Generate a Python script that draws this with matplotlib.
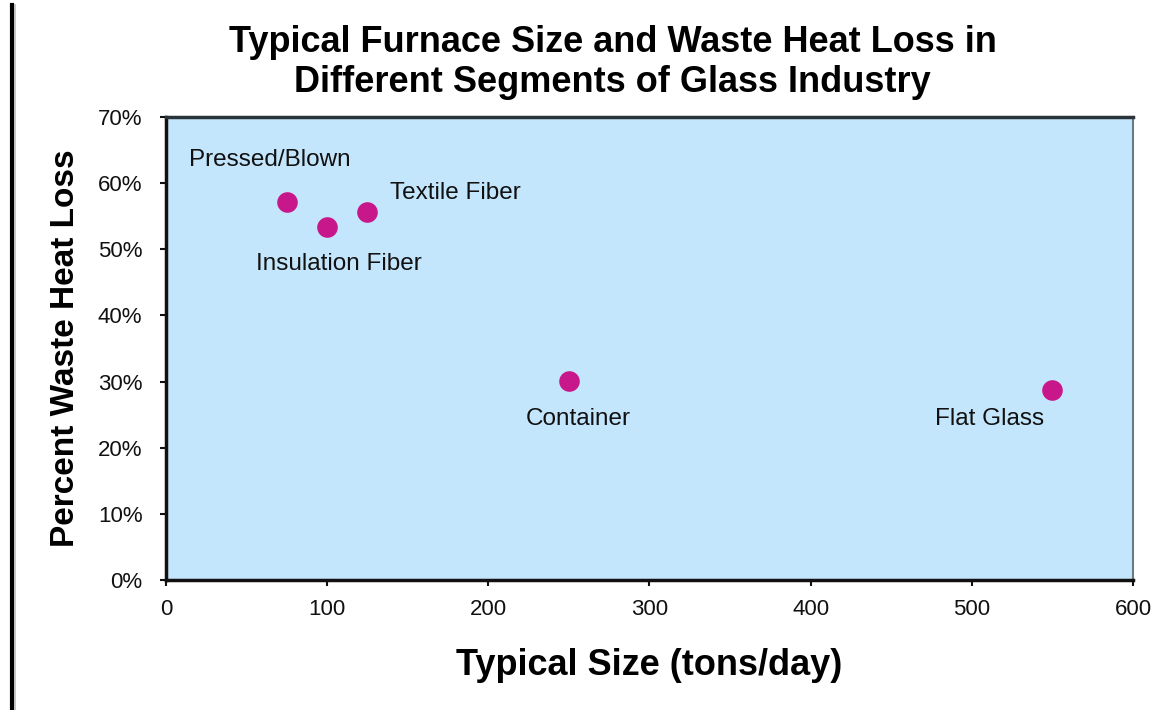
import matplotlib
matplotlib.use("Agg")
import matplotlib.pyplot as plt
from matplotlib.lines import Line2D
from matplotlib.ticker import FuncFormatter

plt.rcParams['font.family'] = ['Liberation Sans', 'DejaVu Sans']

segments = ["Pressed/Blown", "Insulation Fiber", "Textile Fiber", "Container", "Flat Glass"]
size_tpd = [75, 100, 125, 250, 550]
heat_loss = [0.572, 0.534, 0.557, 0.301, 0.287]
x_ticks = [0, 100, 200, 300, 400, 500, 600]
y_ticks = [0.0, 0.1, 0.2, 0.3, 0.4, 0.5, 0.6, 0.7]
# label anchor positions (data coords) and alignment
label_pos = [(14, 0.635, 'left'), (56, 0.478, 'left'), (139, 0.585, 'left'),
             (223, 0.244, 'left'), (477, 0.244, 'left')]

fig = plt.figure(figsize=(11.6, 7.1), dpi=100)
ax = fig.add_axes([0.1431, 0.1831, 0.8336, 0.6521])
ax.set_facecolor('#C4E6FC')

ax.scatter(size_tpd, heat_loss, s=220, color='#C8178A', zorder=3, linewidths=0)
for name, (lx, ly, ha) in zip(segments, label_pos):
    ax.text(lx, ly, name, fontsize=17.5, ha=ha, va='center', color='#111111')

ax.set_xlim(0, 600)
ax.set_ylim(0, 0.7)
ax.set_xticks(x_ticks)
ax.set_yticks(y_ticks)
ax.yaxis.set_major_formatter(FuncFormatter(lambda v, p: f"{v*100:.0f}%"))
ax.tick_params(axis='both', direction='out', length=4, width=1.5, labelsize=16, colors='#111111')
ax.tick_params(axis='x', pad=10)
ax.tick_params(axis='y', pad=13)

for s in ['left', 'bottom']:
    ax.spines[s].set_linewidth(2.5)
    ax.spines[s].set_color('#111111')
ax.spines['top'].set_linewidth(2.5)
ax.spines['top'].set_color('#2a3338')
ax.spines['right'].set_linewidth(1.5)
ax.spines['right'].set_color('#6a7a85')

ax.set_xlabel("Typical Size (tons/day)", fontsize=26, fontweight='bold', labelpad=20)
ax.set_ylabel("Percent Waste Heat Loss", fontsize=24, fontweight='bold', labelpad=12)

fig.text(0.528, 0.912, "Typical Furnace Size and Waste Heat Loss in\nDifferent Segments of Glass Industry",
         ha='center', va='center', fontsize=26, fontweight='bold', linespacing=1.15)

fig.add_artist(Line2D([12/1160, 12/1160], [0.0, 0.993], color='black', linewidth=3,
                      transform=fig.transFigure))
fig.add_artist(Line2D([14.5/1160, 14.5/1160], [0.0, 0.993], color='#bbbbbb', linewidth=1.2,
                      transform=fig.transFigure))

fig.savefig("out.png", dpi=100)
